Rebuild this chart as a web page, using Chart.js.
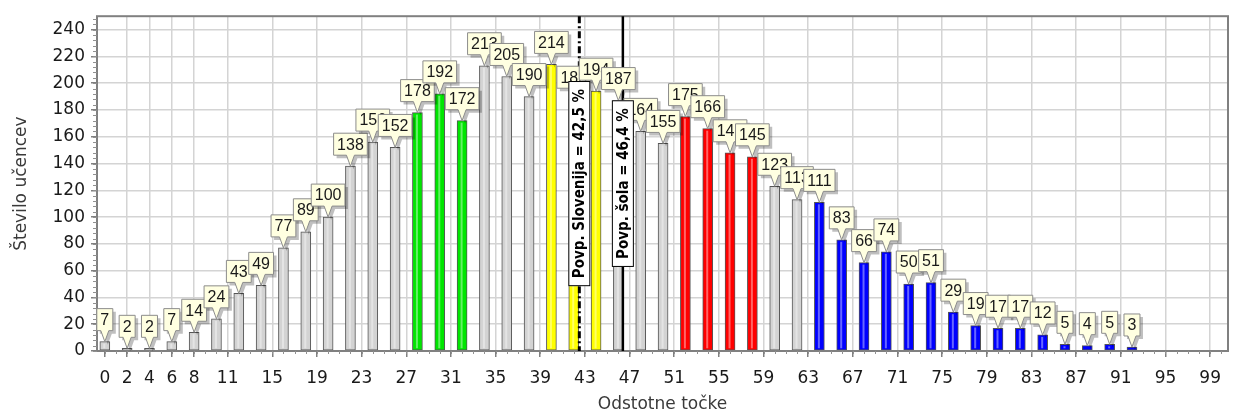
<!DOCTYPE html>
<html lang="sl">
<head>
<meta charset="utf-8">
<title>Število učencev po odstotnih točkah</title>
<script src="https://cdn.jsdelivr.net/npm/chart.js@4.4.1/dist/chart.umd.min.js"></script>
<style>
  html, body { margin: 0; padding: 0; background: #fff; }
</style>
</head>
<body>
<canvas id="graf" width="1235" height="419"></canvas>
<script>
// Odstotne točke (sredina stolpca)
const tocke = [0, 2, 4, 6, 8, 10, 12, 14, 16, 18, 20, 22, 24, 26, 28, 30, 32, 34, 36, 38,
               40, 42, 44, 46, 48, 50, 52, 54, 56, 58, 60, 62, 64, 66, 68, 70, 72, 74, 76, 78,
               80, 82, 84, 86, 88, 90, 92];
// Število učencev
const stUcencev = [7, 2, 2, 7, 14, 24, 43, 49, 77, 89, 100, 138, 156, 152, 178, 192, 172, 213, 205, 190,
                   214, 188, 194, 187, 164, 155, 175, 166, 148, 145, 123, 113, 111, 83, 66, 74, 50, 51, 29, 19,
                   17, 17, 12, 5, 4, 5, 3];
// Oznake na oseh
const oznakeX = [0, 2, 4, 6, 8, 11, 15, 19, 23, 27, 31, 35, 39, 43, 47, 51, 55, 59, 63, 67, 71, 75, 79, 83, 87, 91, 95, 99];
const oznakeY = [0, 20, 40, 60, 80, 100, 120, 140, 160, 180, 200, 220, 240];
// Povprečja
const povpSlovenija = 42.5;
const povpSola = 46.4;

const pisava = '"DejaVu Sans", Verdana, sans-serif';

// barva stolpca glede na območje točk
function barva(x) {
    if (x >= 28 && x <= 32) return '#00e600';
    if (x >= 40 && x <= 44) return '#ffff00';
    if (x >= 52 && x <= 58) return '#ff0000';
    if (x >= 64) return '#0000ff';
    return '#d3d3d3';
}

function vejica(v) {
    return v.toFixed(1).replace('.', ',');
}

// oblaček z vrednostjo nad stolpcem
function oblacek(ctx, x, vrh, besedilo) {
    ctx.font = '16px "Liberation Sans", Arial, sans-serif';
    const w = Math.max(ctx.measureText(besedilo).width + 7, 16);
    const h = 22, konica = 11;
    const levo = x - w / 2, zgoraj = vrh - konica - h;
    const pot = () => {
        ctx.beginPath();
        ctx.moveTo(levo, zgoraj);
        ctx.lineTo(levo + w, zgoraj);
        ctx.lineTo(levo + w, zgoraj + h);
        ctx.lineTo(x + 4, zgoraj + h);
        ctx.lineTo(x, vrh);
        ctx.lineTo(x - 4, zgoraj + h);
        ctx.lineTo(levo, zgoraj + h);
        ctx.closePath();
    };
    ctx.save();
    ctx.translate(3, 3);
    pot();
    ctx.fillStyle = 'rgba(0,0,0,0.25)';
    ctx.fill();
    ctx.restore();
    pot();
    ctx.fillStyle = '#ffffe1';
    ctx.fill();
    ctx.strokeStyle = '#8c8c8c';
    ctx.lineWidth = 1;
    ctx.stroke();
    ctx.fillStyle = '#1a1a1a';
    ctx.textAlign = 'center';
    ctx.textBaseline = 'middle';
    ctx.fillText(besedilo, x, zgoraj + h / 2 + 1);
}

// navpični napis s povprečjem
function napisPovp(ctx, x, sredina, besedilo) {
    ctx.save();
    ctx.font = 'bold 15px "DejaVu Sans Condensed", "Liberation Sans Narrow", "DejaVu Sans", sans-serif';
    const dolzina = ctx.measureText(besedilo).width + 16;
    const sirina = 22;
    ctx.fillStyle = '#ffffff';
    ctx.fillRect(x - sirina / 2, sredina - dolzina / 2, sirina, dolzina);
    ctx.strokeStyle = '#000';
    ctx.lineWidth = 1;
    ctx.strokeRect(x - sirina / 2 + 0.5, sredina - dolzina / 2 + 0.5, sirina - 1, dolzina - 1);
    ctx.translate(x, sredina);
    ctx.rotate(-Math.PI / 2);
    ctx.fillStyle = '#000';
    ctx.textAlign = 'center';
    ctx.textBaseline = 'middle';
    ctx.fillText(besedilo, 0, 1);
    ctx.restore();
}

const dodatki = {
    id: 'dodatki',
    afterDatasetsDraw(chart) {
        const { ctx, chartArea, scales } = chart;
        const meta = chart.getDatasetMeta(0);
        ctx.save();

        // svetel pas na stolpcih (3D videz)
        meta.data.forEach(bar => {
            const h = bar.base - bar.y;
            if (h < 5) return;
            ctx.fillStyle = 'rgba(255,255,255,0.4)';
            ctx.fillRect(bar.x - 1.5, bar.y + 2, 2, h - 4);
        });

        // okvir
        ctx.strokeStyle = '#808080';
        ctx.lineWidth = 2;
        ctx.strokeRect(chartArea.left, chartArea.top, chartArea.right - chartArea.left, chartArea.bottom - chartArea.top);

        // manjše oznake na oseh
        ctx.strokeStyle = '#909090';
        ctx.lineWidth = 1;
        ctx.beginPath();
        for (let v = 0; v <= 250; v += 4) {
            const y = Math.round(scales.y.getPixelForValue(v)) + 0.5;
            ctx.moveTo(chartArea.left - 4, y);
            ctx.lineTo(chartArea.left, y);
        }
        for (let v = 0; v <= 100; v += 1) {
            const x = Math.round(scales.x.getPixelForValue(v)) + 0.5;
            ctx.moveTo(x, chartArea.bottom);
            ctx.lineTo(x, chartArea.bottom + 3);
        }
        ctx.stroke();

        // črti povprečij
        const xSlo = scales.x.getPixelForValue(povpSlovenija);
        const xSola = scales.x.getPixelForValue(povpSola);
        ctx.strokeStyle = '#000';
        ctx.lineWidth = 3;
        ctx.setLineDash([7, 3, 2, 3]);
        ctx.beginPath();
        ctx.moveTo(xSlo, chartArea.top);
        ctx.lineTo(xSlo, chartArea.bottom);
        ctx.stroke();
        ctx.setLineDash([]);
        ctx.lineWidth = 2.5;
        ctx.beginPath();
        ctx.moveTo(xSola, chartArea.top);
        ctx.lineTo(xSola, chartArea.bottom);
        ctx.stroke();

        // oblački z vrednostmi
        meta.data.forEach((bar, i) => {
            oblacek(ctx, bar.x, bar.y, String(stUcencev[i]));
        });

        // napisa povprečij
        const sredina = (chartArea.top + chartArea.bottom) / 2;
        napisPovp(ctx, xSlo, sredina, 'Povp. Slovenija = ' + vejica(povpSlovenija) + ' %');
        napisPovp(ctx, xSola, sredina, 'Povp. šola = ' + vejica(povpSola) + ' %');

        ctx.restore();
    }
};

const ctx = document.getElementById('graf').getContext('2d');
const graf = new Chart(ctx, {
    type: 'bar',
    data: {
        datasets: [{
            label: 'Število učencev',
            data: tocke.map((t, i) => ({ x: t, y: stUcencev[i] })),
            backgroundColor: tocke.map(barva),
            borderColor: '#555555',
            borderWidth: 1,
            borderSkipped: false,
            barThickness: 10
        }]
    },
    options: {
        responsive: false,
        animation: false,
        layout: { padding: { top: 9, right: 7, left: 0, bottom: 0 } },
        plugins: {
            legend: { display: false },
            tooltip: { enabled: false }
        },
        scales: {
            x: {
                type: 'linear',
                offset: false,
                min: -0.7,
                max: 100.6,
                afterBuildTicks: s => { s.ticks = oznakeX.map(v => ({ value: v })); },
                afterFit: s => { s.height = 68; },
                ticks: {
                    autoSkip: false,
                    maxRotation: 0,
                    padding: 11,
                    color: '#1a1a1a',
                    font: { family: pisava, size: 17 }
                },
                grid: {
                    // brez mrežne črte pri 0
                    color: c => (c.tick && c.tick.value === 0) ? 'rgba(0,0,0,0)' : '#d4d4d4',
                    lineWidth: 1.5,
                    tickLength: 6,
                    tickColor: '#808080',
                    offset: false
                },
                border: { display: false },
                title: {
                    display: true,
                    text: 'Odstotne točke',
                    color: '#3a3a3a',
                    font: { family: pisava, size: 17 },
                    padding: { top: 0, bottom: 4 }
                }
            },
            y: {
                min: 0,
                max: 250,
                afterBuildTicks: s => { s.ticks = oznakeY.map(v => ({ value: v })); },
                afterFit: s => { s.width = 97; },
                ticks: {
                    padding: 6,
                    color: '#1a1a1a',
                    font: { family: pisava, size: 17 }
                },
                grid: { color: '#d4d4d4', lineWidth: 1.5, tickLength: 6, tickColor: '#808080' },
                border: { display: false },
                title: {
                    display: true,
                    text: 'Število učencev',
                    color: '#3a3a3a',
                    font: { family: pisava, size: 17 },
                    padding: { top: 11, bottom: 0 }
                }
            }
        }
    },
    plugins: [dodatki]
});
</script>
</body>
</html>
